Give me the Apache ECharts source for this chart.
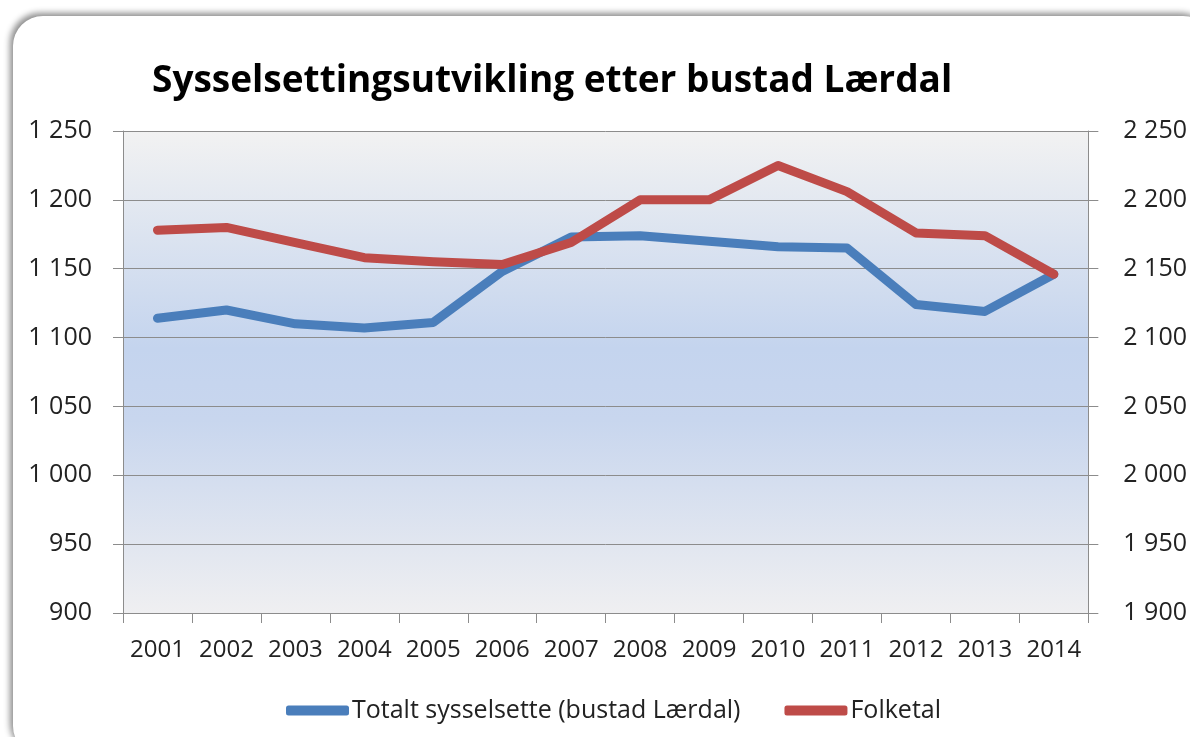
<!DOCTYPE html>
<html>
<head>
<meta charset="utf-8">
<script src="https://cdn.jsdelivr.net/npm/echarts@6/dist/echarts.min.js"></script>
<style>
html,body{margin:0;padding:0;background:#fff;width:1190px;height:737px;overflow:hidden;}
#card{position:absolute;left:13px;top:16px;width:1200px;height:740px;border-radius:30px;
  box-shadow:-3px -3px 6px rgba(0,0,0,0.45);background:#fff;}
#chart{position:absolute;left:0;top:0;width:1190px;height:737px;}
</style>
</head>
<body>
<div id="card"></div>
<div id="chart"></div>
<script>
const title = 'Sysselsettingsutvikling etter bustad Lærdal';
const years = ['2001','2002','2003','2004','2005','2006','2007','2008','2009','2010','2011','2012','2013','2014'];
const sysselsette = [1114,1120,1110,1107,1111,1148,1173,1174,1170,1166,1165,1124,1119,1146];
const folketal = [2178,2180,2169,2158,2155,2153,2169,2200,2200,2225,2206,2176,2174,2146];
const seriesNames = ['Totalt sysselsette (bustad Lærdal)','Folketal'];
const leftAxis = {min:900, max:1250, interval:50};
const rightAxis = {min:1900, max:2250, interval:50};

function fmt(v){ const s=String(v); return s.length>3 ? s.slice(0,s.length-3)+' '+s.slice(-3) : s; }

const chart = echarts.init(document.getElementById('chart'), null, {renderer:'canvas'});
const fontFam = '"Open Sans", "Liberation Sans", sans-serif';
const axisLine = {show:true, lineStyle:{color:'#8c8c8c', width:1}};
const tickStyle = {show:true, length:10, lineStyle:{color:'#8c8c8c'}};
chart.setOption({
  animation:false,
  title:{text:title, left:147, top:58, textStyle:{fontFamily:fontFam, fontWeight:'bold', fontSize:37, color:'#000'}},
  grid:{left:123, right:101, top:131, bottom:124, show:true, borderWidth:0,
    backgroundColor:new echarts.graphic.LinearGradient(0,0,0,1,[
      {offset:0,color:'#f2f2f2'},{offset:0.45,color:'#c4d4ee'},{offset:0.6,color:'#c8d6ee'},{offset:1,color:'#efeff1'}])},
  legend:{bottom:9, left:281, itemWidth:63, itemHeight:10, itemGap:44, icon:'roundRect',
    textStyle:{fontFamily:fontFam, fontSize:25, color:'#222', padding:[0,0,0,-2]},
    data:seriesNames},
  xAxis:{type:'category', data:years, boundaryGap:true,
    axisLine:axisLine, axisTick:Object.assign({interval:0}, tickStyle),
    axisLabel:{interval:0, fontFamily:fontFam, fontSize:24, color:'#222', margin:25}},
  yAxis:[
    {type:'value', min:leftAxis.min, max:leftAxis.max, interval:leftAxis.interval, position:'left',
      axisLine:axisLine, axisTick:tickStyle,
      splitLine:{show:true, lineStyle:{color:'#8c8c8c', width:1}},
      axisLabel:{fontFamily:fontFam, fontSize:25, color:'#222', margin:31, formatter:fmt}},
    {type:'value', min:rightAxis.min, max:rightAxis.max, interval:rightAxis.interval, position:'right',
      axisLine:axisLine, axisTick:tickStyle,
      splitLine:{show:false},
      axisLabel:{fontFamily:fontFam, fontSize:25, color:'#222', margin:35, formatter:fmt}}
  ],
  series:[
    {name:seriesNames[0], type:'line', yAxisIndex:0, data:sysselsette, symbol:'none',
      lineStyle:{color:'#4a7ebb', width:9, cap:'round', join:'round'}, itemStyle:{color:'#4a7ebb'}, z:2},
    {name:seriesNames[1], type:'line', yAxisIndex:1, data:folketal, symbol:'none',
      lineStyle:{color:'#be4b48', width:9, cap:'round', join:'round'}, itemStyle:{color:'#be4b48'}, z:3}
  ]
});
</script>
</body>
</html>
